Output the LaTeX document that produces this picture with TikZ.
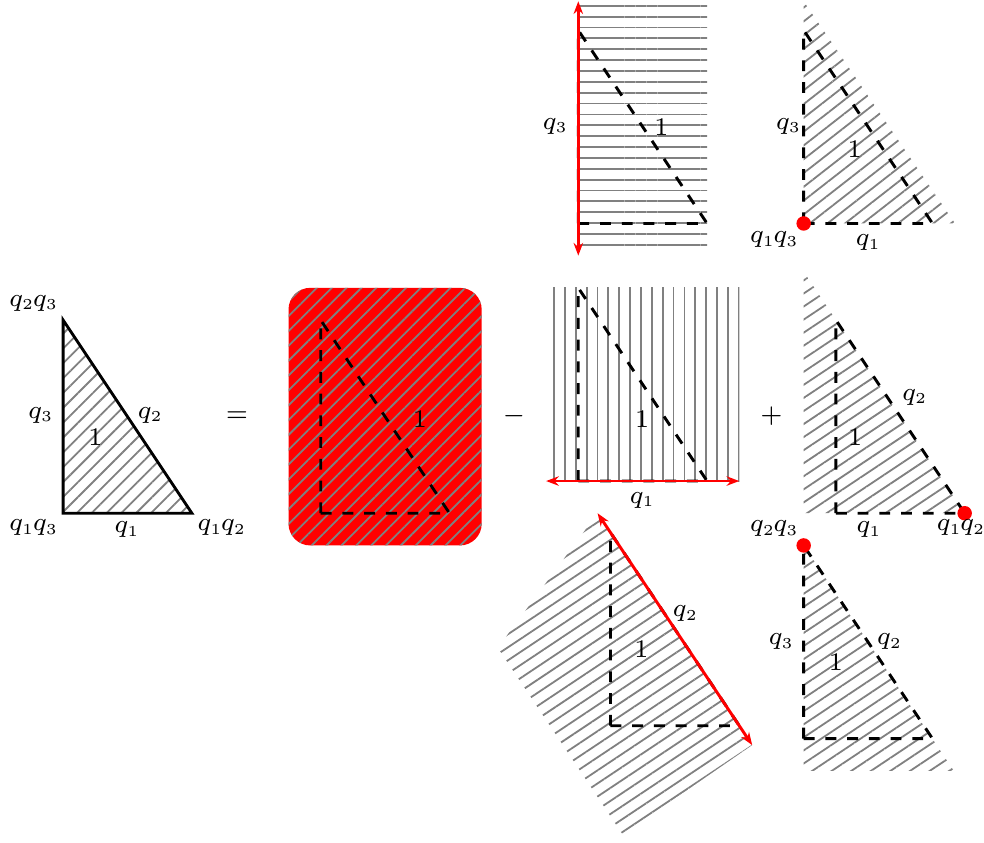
\documentclass[tikz,border=0pt]{standalone}
\usepackage{fix-cm}
\DeclareMathSizes{7}{7}{4.2}{3.5}
\usetikzlibrary{patterns.meta,arrows.meta,calc}
\newcommand{\labfont}{\fontsize{7}{8}\selectfont\scriptspace=0pt\relax}
\tikzset{
  slanthatch/.style={pattern={Lines[angle=#1,distance=3pt,line width=0.5pt]}, pattern color=gray},
  hatch/.style={pattern={Lines[angle=45,distance=2.9pt,line width=0.5pt]}, pattern color=gray},
  dashtri/.style={thick, dashed},
  rededge/.style={red, thick, {Stealth[length=3.5pt,width=2.6pt]}-{Stealth[length=3.5pt,width=2.6pt]}},
  lab/.style={font=\labfont, inner sep=0pt}
}
\begin{document}
\begin{tikzpicture}[x=0.625cm, y=0.625cm]
    \useasboundingbox (-0.98,-5.11) rectangle (14.3,7.97);
    % triangle
    \coordinate (A0) at (0,0); \coordinate (A1) at (2,0); \coordinate (A2) at (0,3);
    \fill[hatch] (A0) -- (A1) -- (A2) -- cycle;
    \draw[thick] (A0) -- (A1) -- (A2) -- cycle;
    \node[lab] (a23) at (-0.47,3.26) {$q_2q_3$};
    \node[lab] (a3) at (-0.36,1.52) {$q_3$};
    \node[lab] (a2) at (1.34,1.52) {$q_2$};
    \node[lab] (a1) at (0.5,1.18) {$1$};
    \node[lab] (a13) at (-0.47,-0.22) {$q_1q_3$};
    \node[lab] (aq1) at (0.98,-0.26) {$q_1$};
    \node[lab] (a12) at (2.45,-0.22) {$q_1q_2$};
    \node[lab] (eq) at (2.7,1.5) {$=$};
    % whole plane
    \begin{scope}[shift={(4,0)}]
        \path[hatch, preaction={fill=red}, rounded corners=6pt] (-0.5,-0.5) rectangle (2.5,3.5);
        \draw[dashtri] (0,0) -- (2,0) -- (0,3) -- cycle;
        \node[lab] (b1) at (1.54,1.46) {$1$};
    \end{scope}
    \node[lab] (minus) at (7,1.5) {$-$};
    % half planes
    \begin{scope}[shift={(8,4.5)}]
        \fill[slanthatch=0] (0,-0.45) rectangle (2,3.45);
        \draw[dashtri] (0,0) -- (2,0) -- (0,3) -- cycle;
        \coordinate (C0) at (0,-0.5); \coordinate (C1) at (0,3.45);
        \draw[rededge] (C0) -- (C1);
        \node[lab] (c3) at (-0.37,1.51) {$q_3$};
        \node[lab] (c1) at (1.29,1.49) {$1$};
    \end{scope}
    \begin{scope}[shift={(8,0.5)}]
        \fill[slanthatch=90] (-0.5,0) rectangle (2.5,3);
        \draw[dashtri] (0,0) -- (2,0) -- (0,3) -- cycle;
        \coordinate (E0) at (-0.5,0); \coordinate (E1) at (2.5,0);
        \draw[rededge] (E0) -- (E1);
        \node[lab] (e1) at (0.99,0.96) {$1$};
        \node[lab] (eq1) at (0.98,-0.30) {$q_1$};
    \end{scope}
    \begin{scope}[shift={(8.5,-3.3)}]
        \coordinate (G0) at ($(0,3)!-0.1!(2,0)$); \coordinate (G1) at ($(2,0)!-0.1!(0,3)$);
        \fill[slanthatch=33.69] (G0) -- (G1) -- (0.19,-1.69) -- (-1.75,1.21) -- cycle;
        \draw[dashtri] (0,0) -- (2,0) -- (0,3) -- cycle;
        \draw[rededge] (G0) -- (G1);
        \node[lab] (g2) at (1.15,1.74) {$q_2$};
        \node[lab] (g1) at (0.48,1.18) {$1$};
    \end{scope}
    \node[lab] (plus) at (11,1.5) {$+$};
    % vertex cones
    \begin{scope}[shift={(11.5,4.5)}]
        \fill[slanthatch=38] (0,0) -- (2.35,0) -- (0,3.45) -- cycle;
        \draw[dashtri] (0,0) -- (2,0) -- (0,3) -- cycle;
        \fill[red] (0,0) circle (2pt);
        \node[lab] (d3) at (-0.25,1.51) {$q_3$};
        \node[lab] (d1) at (0.79,1.15) {$1$};
        \node[lab] (d13) at (-0.47,-0.25) {$q_1q_3$};
        \node[lab] (dq1) at (0.99,-0.30) {$q_1$};
    \end{scope}
    \begin{scope}[shift={(12,0)}]
        \fill[slanthatch=33.69] (-0.5,0) -- (2,0) -- (-0.5,3.75) -- cycle;
        \draw[dashtri] (0,0) -- (2,0) -- (0,3) -- cycle;
        \fill[red] (2,0) circle (2pt);
        \node[lab] (f2) at (1.21,1.80) {$q_2$};
        \node[lab] (f1) at (0.30,1.18) {$1$};
        \node[lab] (fq1) at (0.5,-0.26) {$q_1$};
        \node[lab] (f12) at (1.93,-0.22) {$q_1q_2$};
    \end{scope}
    \begin{scope}[shift={(11.5,-3.5)}]
        \fill[slanthatch=33.69] (0,3) -- (0,-0.5) -- (2.33,-0.5) -- cycle;
        \draw[dashtri] (0,0) -- (2,0) -- (0,3) -- cycle;
        \fill[red] (0,3) circle (2pt);
        \node[lab] (h3) at (-0.36,1.51) {$q_3$};
        \node[lab] (h2) at (1.32,1.51) {$q_2$};
        \node[lab] (h1) at (0.5,1.18) {$1$};
        \node[lab] (h23) at (-0.47,3.26) {$q_2q_3$};
    \end{scope}
\end{tikzpicture}
\end{document}
